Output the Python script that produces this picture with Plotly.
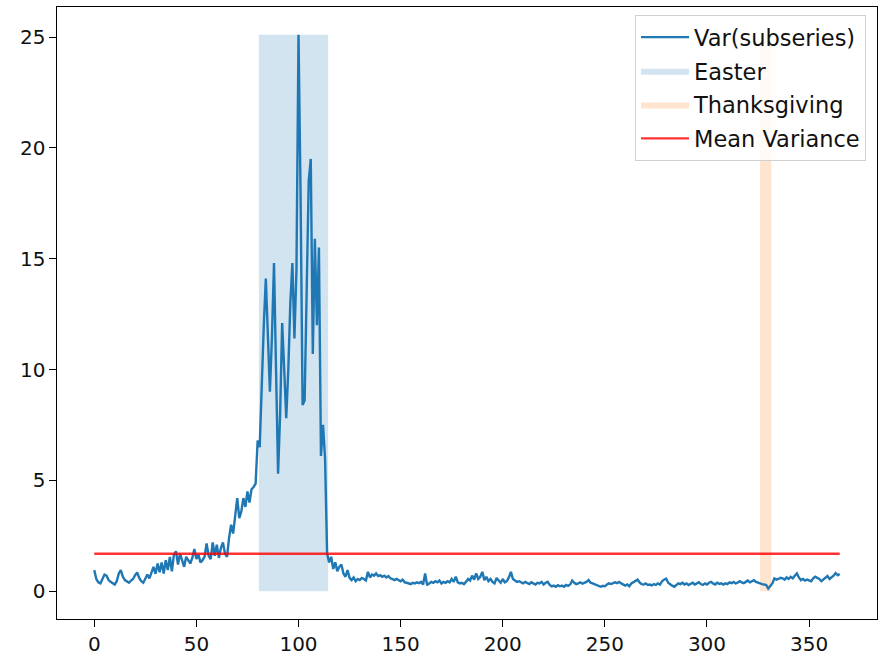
import plotly.graph_objects as go

days = list(range(366))
variance = [
    0.95, 0.55, 0.40, 0.35, 0.55, 0.75, 0.70, 0.50, 0.42, 0.35,
    0.30, 0.45, 0.80, 0.95, 0.65, 0.50, 0.45, 0.38, 0.48, 0.55,
    0.72, 0.85, 0.60, 0.45, 0.38, 0.55, 0.75, 0.58, 0.82, 1.10,
    0.78, 1.25, 0.85, 1.30, 0.80, 1.40, 0.95, 1.55, 0.90, 1.65,
    1.80, 1.20, 1.70, 1.35, 1.10, 1.55, 1.40, 1.25, 1.50, 1.90,
    1.45, 1.65, 1.30, 1.40, 1.55, 2.15, 1.60, 1.45, 2.20, 1.60,
    2.10, 1.50, 1.95, 2.20, 1.70, 1.55, 2.40, 3.00, 2.60, 3.40,
    4.20, 3.30, 3.60, 4.20, 3.80, 4.50, 4.00, 4.60, 4.70, 4.85,
    6.80, 6.50, 9.50, 12.0, 14.1, 11.0, 9.0, 11.5, 14.8, 10.0,
    5.3, 8.0, 12.1, 10.0, 7.8, 10.0, 13.0, 14.8, 11.4, 14.5,
    25.1, 18.0, 8.4, 8.6, 14.0, 18.5, 19.5, 10.7, 15.9, 12.0,
    15.5, 6.1, 7.5, 6.0, 1.7, 1.3, 1.55, 1.0, 1.3, 0.9,
    1.1, 1.2, 0.8, 0.65, 0.95, 0.6, 0.5, 0.62, 0.45, 0.55,
    0.50, 0.60, 0.55, 0.48, 0.87, 0.62, 0.75, 0.70, 0.80, 0.68,
    0.72, 0.65, 0.70, 0.62, 0.68, 0.58, 0.55, 0.50, 0.55, 0.48,
    0.45, 0.52, 0.40, 0.38, 0.35, 0.32, 0.38, 0.35, 0.40, 0.36,
    0.42, 0.30, 0.80, 0.27, 0.35, 0.42, 0.38, 0.45, 0.40, 0.48,
    0.35, 0.42, 0.38, 0.45, 0.40, 0.55, 0.42, 0.65, 0.40, 0.35,
    0.38, 0.32, 0.42, 0.55, 0.48, 0.70, 0.52, 0.80, 0.55, 0.65,
    0.87, 0.50, 0.65, 0.45, 0.55, 0.42, 0.35, 0.60, 0.48, 0.38,
    0.55, 0.40, 0.45, 0.62, 0.87, 0.55, 0.48, 0.42, 0.45, 0.40,
    0.35, 0.42, 0.38, 0.32, 0.40, 0.36, 0.30, 0.38, 0.35, 0.42,
    0.30, 0.38, 0.42, 0.28, 0.22, 0.25, 0.20, 0.27, 0.22, 0.25,
    0.20, 0.28, 0.24, 0.30, 0.48, 0.38, 0.32, 0.35, 0.40, 0.34,
    0.38, 0.42, 0.50, 0.38, 0.35, 0.32, 0.28, 0.25, 0.20, 0.24,
    0.22, 0.30, 0.35, 0.32, 0.38, 0.40, 0.36, 0.42, 0.35, 0.28,
    0.25, 0.30, 0.22, 0.35, 0.40, 0.48, 0.52, 0.40, 0.32, 0.30,
    0.35, 0.28, 0.30, 0.26, 0.32, 0.28, 0.35, 0.30, 0.45, 0.52,
    0.57, 0.38, 0.30, 0.25, 0.20, 0.28, 0.35, 0.32, 0.38, 0.30,
    0.35, 0.28, 0.32, 0.38, 0.30, 0.35, 0.40, 0.32, 0.28, 0.35,
    0.30, 0.38, 0.42, 0.35, 0.30, 0.38, 0.33, 0.36, 0.30, 0.35,
    0.32, 0.40, 0.36, 0.42, 0.35, 0.38, 0.45, 0.40, 0.36, 0.42,
    0.48, 0.40, 0.45, 0.50, 0.42, 0.38, 0.35, 0.32, 0.30, 0.28,
    0.12, 0.25, 0.35, 0.57, 0.52, 0.55, 0.60, 0.58, 0.52, 0.62,
    0.55, 0.65, 0.58, 0.70, 0.80, 0.62, 0.50, 0.55, 0.48, 0.52,
    0.50, 0.45, 0.58, 0.65, 0.60, 0.55, 0.45, 0.52, 0.60, 0.68,
    0.55, 0.62, 0.70, 0.82, 0.72, 0.78,
]
easter_span = [80.6, 114.5]
thanksgiving_span = [326, 331.5]
mean_variance = 1.69
x_ticks = [0, 50, 100, 150, 200, 250, 300, 350]
y_ticks = [0, 5, 10, 15, 20, 25]

ymax = max(variance)
FONT = "DejaVu Sans"
TXT = "#111111"

fig = go.Figure()

def span_trace(span, name, color, rank):
    x0, x1 = span
    return go.Scatter(
        x=[x0, x1, x1, x0, x0], y=[0, 0, ymax, ymax, 0],
        mode="lines", fill="toself", fillcolor=color,
        line=dict(width=0, color=color), name=name,
        legendrank=rank, legendgroup=name, hoverinfo="skip",
    )

fig.add_trace(span_trace(easter_span, "Easter", "rgba(31,119,180,0.2)", 2))
fig.add_trace(span_trace(thanksgiving_span, "Thanksgiving", "rgba(255,127,14,0.2)", 3))
fig.add_trace(go.Scatter(
    x=days, y=variance, mode="lines", name="Var(subseries)",
    line=dict(color="#1f77b4", width=2.4), legendrank=1, legendgroup="var",
))
fig.add_trace(go.Scatter(
    x=[days[0], days[-1]], y=[mean_variance, mean_variance], mode="lines",
    name="Mean Variance", line=dict(color="rgba(255,0,0,0.8)", width=2.4),
    legendrank=4, legendgroup="mean",
))

axis_common = dict(
    showgrid=False, zeroline=False, showline=True, linecolor="black",
    linewidth=1.1, mirror=True, ticks="outside", ticklen=6.5, tickwidth=1.1,
    tickcolor="black", tickfont=dict(family=FONT, size=20, color=TXT),
    automargin=False,
)

fig.update_layout(
    width=882, height=667,
    margin=dict(l=57, r=5, t=7, b=48),
    plot_bgcolor="white", paper_bgcolor="white",
    font=dict(family=FONT, size=20, color=TXT),
    showlegend=True,
    legend=dict(
        x=0.9866, y=0.987, xanchor="right", yanchor="top",
        bgcolor="rgba(255,255,255,0.8)", bordercolor="#d0d0d0", borderwidth=1,
        font=dict(family=FONT, size=22.5, color=TXT),
        traceorder="grouped", tracegroupgap=1.5, itemwidth=48,
    ),
    xaxis=dict(range=[-18.25, 383.25], tickvals=x_ticks, **axis_common),
    yaxis=dict(range=[-ymax * 0.05, ymax * 1.05], tickvals=y_ticks, **axis_common),
)

fig.write_html(
    "out.html",
    config={"displayModeBar": False},
    post_script="document.body.style.margin='0';document.body.style.overflow='hidden';",
)
